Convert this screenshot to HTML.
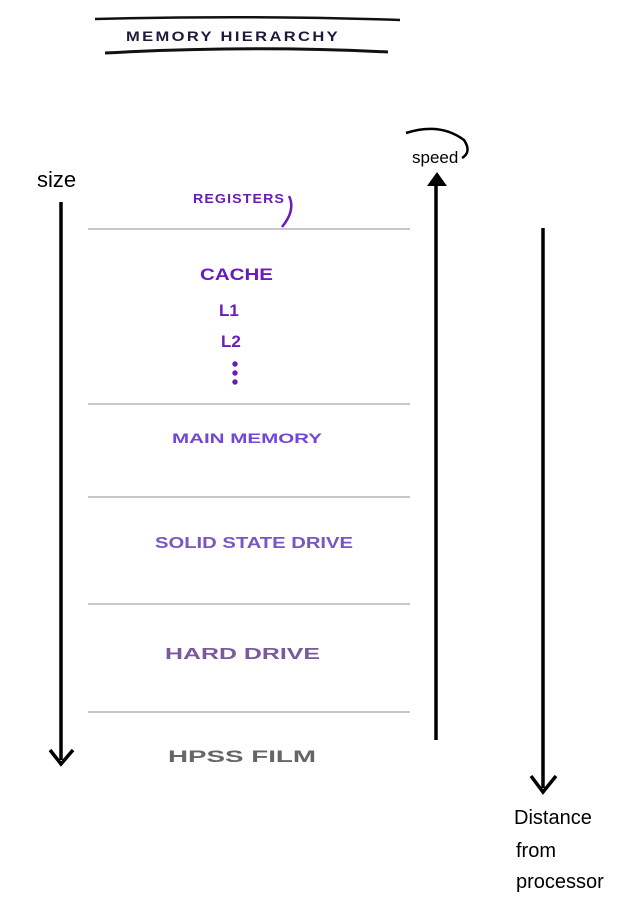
<!DOCTYPE html>
<html><head><style>
html,body{margin:0;padding:0;background:#fff;width:632px;height:904px;overflow:hidden}
svg{display:block}
text{font-family:"Liberation Sans",sans-serif;font-weight:bold}
</style></head><body>
<svg width="632" height="904" viewBox="0 0 632 904" xmlns="http://www.w3.org/2000/svg">
<!-- title -->
<path d="M95 19 Q250 15 400 20" stroke="#111" stroke-width="2.5" fill="none"/>
<path d="M105 53 Q250 45 388 52" stroke="#111" stroke-width="3" fill="none"/>
<text x="126" y="41" font-size="14" fill="#1c1c3a" letter-spacing="2" textLength="214" lengthAdjust="spacingAndGlyphs">MEMORY HIERARCHY</text>
<!-- separators -->
<g stroke="#c8c8c8" stroke-width="2">
<line x1="88" y1="229" x2="410" y2="229"/>
<line x1="88" y1="404" x2="410" y2="404"/>
<line x1="88" y1="497" x2="410" y2="497"/>
<line x1="88" y1="604" x2="410" y2="604"/>
<line x1="88" y1="712" x2="410" y2="712"/>
</g>
<!-- size arrow -->
<line x1="61" y1="202" x2="61" y2="760" stroke="#000" stroke-width="3.5"/>
<path d="M50 750 L61 764 L73 750" stroke="#000" stroke-width="3.5" fill="none"/>
<text x="37" y="187" font-size="22" font-weight="normal" fill="#000" style="font-weight:normal">size</text>
<!-- speed arrow -->
<line x1="436" y1="740" x2="436" y2="180" stroke="#000" stroke-width="3.5"/>
<path d="M427 186 L437 172 L447 186 Z" fill="#000"/>
<text x="412" y="163" font-size="17" fill="#000" style="font-weight:normal">speed</text>
<path d="M406 133 Q440 122 464 140 Q472 152 462 158" stroke="#000" stroke-width="2.5" fill="none"/>
<!-- distance arrow -->
<line x1="543" y1="228" x2="543" y2="788" stroke="#000" stroke-width="3.5"/>
<path d="M531 776 L543 792 L556 776" stroke="#000" stroke-width="3.5" fill="none"/>
<text x="514" y="824" font-size="20" fill="#000" style="font-weight:normal">Distance</text>
<text x="516" y="857" font-size="20" fill="#000" style="font-weight:normal">from</text>
<text x="516" y="888" font-size="20" fill="#000" style="font-weight:normal">processor</text>
<!-- labels -->
<text x="193" y="203" font-size="13" fill="#6a1cb8" letter-spacing="1" textLength="92" lengthAdjust="spacingAndGlyphs">REGISTERS</text>
<path d="M289 196 Q296 210 282 227" stroke="#6a1cb8" stroke-width="2.5" fill="none"/>
<text x="200" y="280" font-size="17" fill="#6a1cb8" textLength="73" lengthAdjust="spacingAndGlyphs">CACHE</text>
<text x="219" y="316" font-size="17" fill="#6a1cb8">L1</text>
<text x="221" y="347" font-size="17" fill="#6a1cb8">L2</text>
<circle cx="235" cy="364" r="2.7" fill="#6a1cb8"/>
<circle cx="235" cy="373" r="2.7" fill="#6a1cb8"/>
<circle cx="235" cy="382" r="2.7" fill="#6a1cb8"/>
<text x="172" y="443" font-size="14" fill="#7148d6" textLength="150" lengthAdjust="spacingAndGlyphs">MAIN   MEMORY</text>
<text x="155" y="548" font-size="16" fill="#7a55c4" textLength="198" lengthAdjust="spacingAndGlyphs">SOLID STATE DRIVE</text>
<text x="165" y="659" font-size="16" fill="#7a5a9c" textLength="155" lengthAdjust="spacingAndGlyphs">HARD   DRIVE</text>
<text x="168" y="762" font-size="17" fill="#666" textLength="148" lengthAdjust="spacingAndGlyphs">HPSS   FILM</text>
</svg>
</body></html>
